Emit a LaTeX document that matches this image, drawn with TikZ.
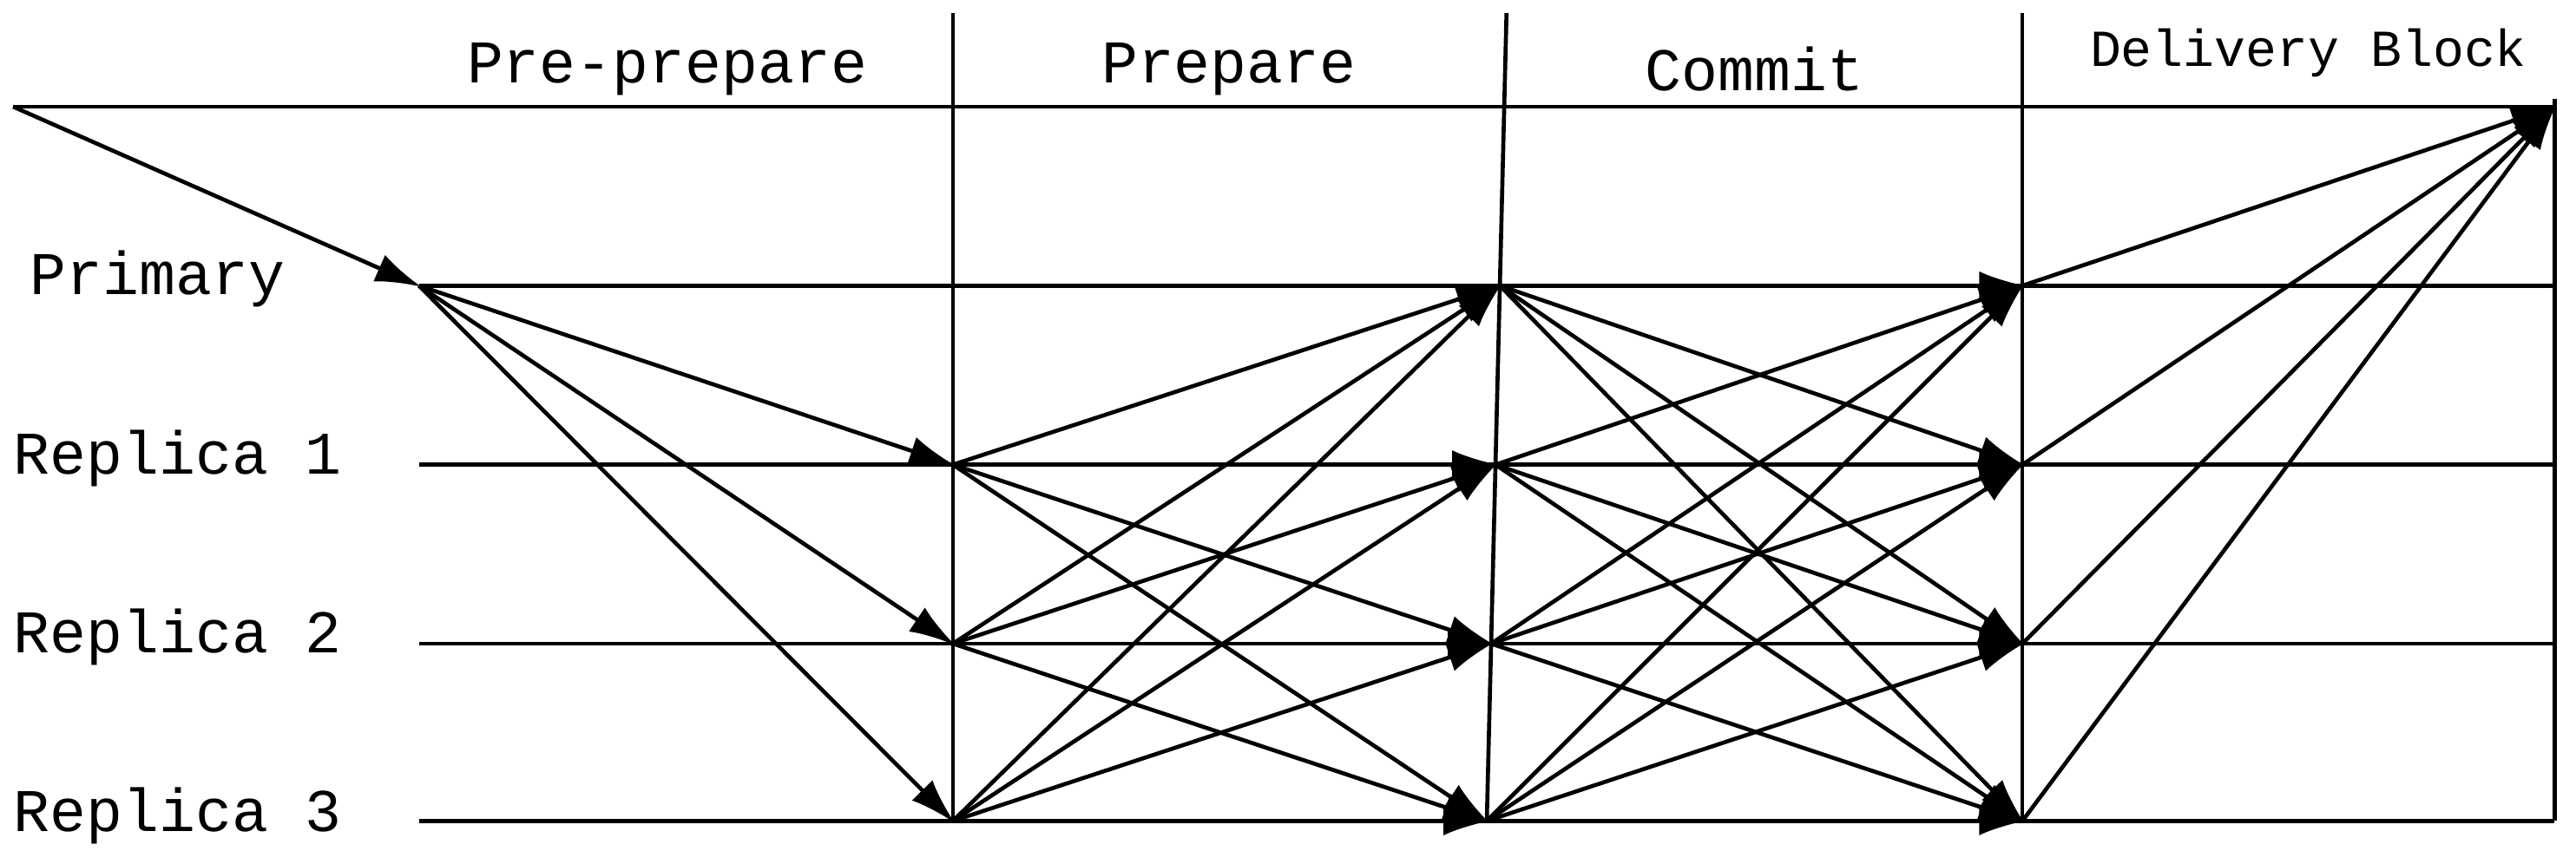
\documentclass[tikz,border=0pt]{standalone}
\usepackage{fontspec}
\setmainfont{Liberation Mono}
\usetikzlibrary{arrows.meta}
\begin{document}
\begin{tikzpicture}[x=0.02cm,y=-0.02cm,
  ln/.style={line width=1.4pt},
  ar/.style={line width=1.4pt,-{Latex[length=16pt,width=10pt]}, shorten >=-1pt},
  lab/.style={font=\fontsize{21}{24}\selectfont, inner sep=0pt}]
\useasboundingbox (0,0) rectangle (1568,526);
% rows
\coordinate (S) at (8,65); \coordinate (E) at (1555,65);
\foreach \n/\y in {0/174,1/283,2/392,3/500}{
  \coordinate (L\n) at (255,\y);
  \coordinate (A\n) at (580,\y);
  \coordinate (B\n) at ({917-12*(\y-8)/492},\y);
  \coordinate (C\n) at (1231,\y);
  \coordinate (R\n) at (1555,\y);
}
\coordinate (V1t) at (580,8); \coordinate (V2t) at (917,8); \coordinate (V3t) at (1231,8);
\coordinate (V4t) at (1555,60);
\draw[ln] (S) -- (E);
\foreach \n in {0,1,2,3}{ \draw[ln] (L\n) -- (R\n); }
\draw[ln] (V1t) -- (A3);
\draw[ln] (V2t) -- (B3);
\draw[ln] (V3t) -- (C3);
\draw[ln] (V4t) -- (R3);
% arrows
\draw[ar] (S) -- (L0);
\foreach \n in {1,2,3}{ \draw[ar] (L0) -- (A\n); }
\foreach \i in {1,2,3}{ \foreach \j in {0,1,2,3}{ \draw[ar] (A\i) -- (B\j); } }
\foreach \i in {0,1,2,3}{ \foreach \j in {0,1,2,3}{ \draw[ar] (B\i) -- (C\j); } }
\foreach \i in {0,1,2,3}{ \draw[ar] (C\i) -- (E); }
% labels
\node[lab] (t1) at (406,42) {Pre-prepare};
\node[lab] (t2) at (748,42) {Prepare};
\node[lab] (t3) at (1068,42) {Commit};
\node[lab,font=\fontsize{18}{20}\selectfont] (t4) at (1405,32) {Delivery Block};
\node[lab,anchor=west] (p) at (18,170) {Primary};
\node[lab,anchor=west] (r1) at (8,279) {Replica 1};
\node[lab,anchor=west] (r2) at (8,388) {Replica 2};
\node[lab,anchor=west] (r3) at (8,497) {Replica 3};
\end{tikzpicture}
\end{document}
